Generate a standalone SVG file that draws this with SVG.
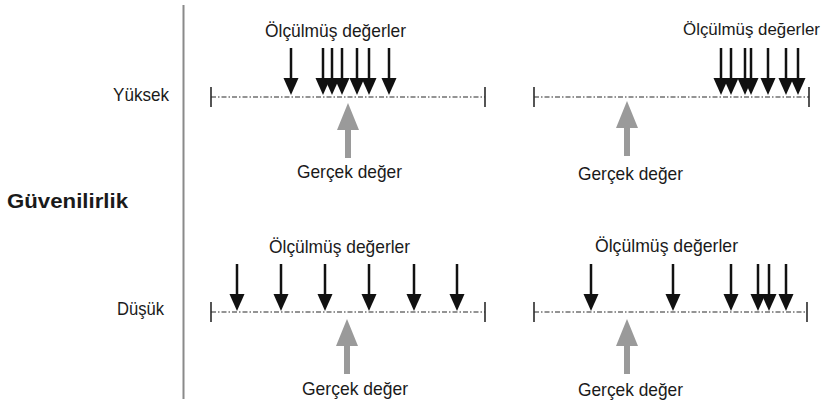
<svg xmlns="http://www.w3.org/2000/svg" width="826" height="402" viewBox="0 0 826 402">
<style>
  text { font-family: "Liberation Sans", Arial, sans-serif; fill: #1a1a1a; }
  .lbl { font-size: 19px; }
  .lbl-edge { font-size: 17px; }
  .title { font-size: 21px; font-weight: bold; }
  .axis { stroke: #2a2a2a; stroke-width: 1.2; stroke-dasharray: 5 2 1.5 2; fill: none; }
  .tick { stroke: #2a2a2a; stroke-width: 1.6; }
  .div { stroke: #8a8a8a; stroke-width: 2; }
</style>
<defs>
  <g id="blk">
    <rect x="-1.25" y="-47" width="2.5" height="32" fill="#111"/>
    <path d="M-7.5,-17 L7.5,-17 L0,0 Z" fill="#111"/>
  </g>
  <g id="gry">
    <path d="M0,0 L11,27 L-11,27 Z" fill="#9a9a9a"/>
    <rect x="-3" y="26" width="6" height="29" fill="#9a9a9a"/>
  </g>
</defs>

<g id="divider">
  <line class="div" x1="183.5" y1="5" x2="183.5" y2="399"/>
</g>

<g id="labels">
  <text class="lbl" x="113" y="101" textLength="56" lengthAdjust="spacingAndGlyphs">Yüksek</text>
  <text class="title" x="7" y="208" textLength="121" lengthAdjust="spacingAndGlyphs">Güvenilirlik</text>
  <text class="lbl" x="117" y="315" textLength="47" lengthAdjust="spacingAndGlyphs">Düşük</text>
</g>

<g id="panel-top-left">
  <text class="lbl" x="265" y="37" textLength="141" lengthAdjust="spacingAndGlyphs">Ölçülmüş değerler</text>
  <line class="axis" x1="211" y1="97" x2="485" y2="97"/>
  <line class="tick" x1="211" y1="87" x2="211" y2="107"/>
  <line class="tick" x1="485" y1="87" x2="485" y2="107"/>
  <g id="arrows-tl">
    <use href="#blk" x="291" y="95"/>
    <use href="#blk" x="323" y="95"/>
    <use href="#blk" x="332" y="95"/>
    <use href="#blk" x="342" y="95"/>
    <use href="#blk" x="357" y="95"/>
    <use href="#blk" x="369" y="95"/>
    <use href="#blk" x="389" y="95"/>
    <use href="#gry" x="348" y="103"/>
  </g>
  <text class="lbl" x="297" y="178" textLength="105" lengthAdjust="spacingAndGlyphs">Gerçek değer</text>
</g>

<g id="panel-top-right">
  <text class="lbl-edge" x="683" y="35" textLength="137" lengthAdjust="spacingAndGlyphs">Ölçülmüş değerler</text>
  <line class="axis" x1="534" y1="97" x2="809" y2="97"/>
  <line class="tick" x1="534" y1="87" x2="534" y2="107"/>
  <line class="tick" x1="809" y1="87" x2="809" y2="107"/>
  <g id="arrows-tr">
    <use href="#blk" x="721" y="95"/>
    <use href="#blk" x="731" y="95"/>
    <use href="#blk" x="745" y="95"/>
    <use href="#blk" x="751" y="95"/>
    <use href="#blk" x="768" y="95"/>
    <use href="#blk" x="786" y="95"/>
    <use href="#blk" x="798" y="95"/>
    <use href="#gry" x="627" y="101"/>
  </g>
  <text class="lbl" x="578" y="180" textLength="105" lengthAdjust="spacingAndGlyphs">Gerçek değer</text>
</g>

<g id="panel-bottom-left">
  <text class="lbl" x="269" y="253" textLength="141" lengthAdjust="spacingAndGlyphs">Ölçülmüş değerler</text>
  <line class="axis" x1="211" y1="312" x2="485" y2="312"/>
  <line class="tick" x1="211" y1="302" x2="211" y2="322"/>
  <line class="tick" x1="485" y1="302" x2="485" y2="322"/>
  <g id="arrows-bl">
    <use href="#blk" x="237" y="311"/>
    <use href="#blk" x="281" y="311"/>
    <use href="#blk" x="325" y="311"/>
    <use href="#blk" x="369" y="311"/>
    <use href="#blk" x="414" y="311"/>
    <use href="#blk" x="457" y="311"/>
    <use href="#gry" x="347" y="319"/>
  </g>
  <text class="lbl" x="302" y="395" textLength="106" lengthAdjust="spacingAndGlyphs">Gerçek değer</text>
</g>

<g id="panel-bottom-right">
  <text class="lbl" x="595" y="252" textLength="143" lengthAdjust="spacingAndGlyphs">Ölçülmüş değerler</text>
  <line class="axis" x1="534" y1="312" x2="807" y2="312"/>
  <line class="tick" x1="534" y1="302" x2="534" y2="322"/>
  <line class="tick" x1="807" y1="302" x2="807" y2="322"/>
  <g id="arrows-br">
    <use href="#blk" x="591" y="311"/>
    <use href="#blk" x="673" y="311"/>
    <use href="#blk" x="731" y="311"/>
    <use href="#blk" x="758" y="311"/>
    <use href="#blk" x="769" y="311"/>
    <use href="#blk" x="786" y="311"/>
    <use href="#gry" x="627" y="319"/>
  </g>
  <text class="lbl" x="578" y="396" textLength="105" lengthAdjust="spacingAndGlyphs">Gerçek değer</text>
</g>
</svg>
